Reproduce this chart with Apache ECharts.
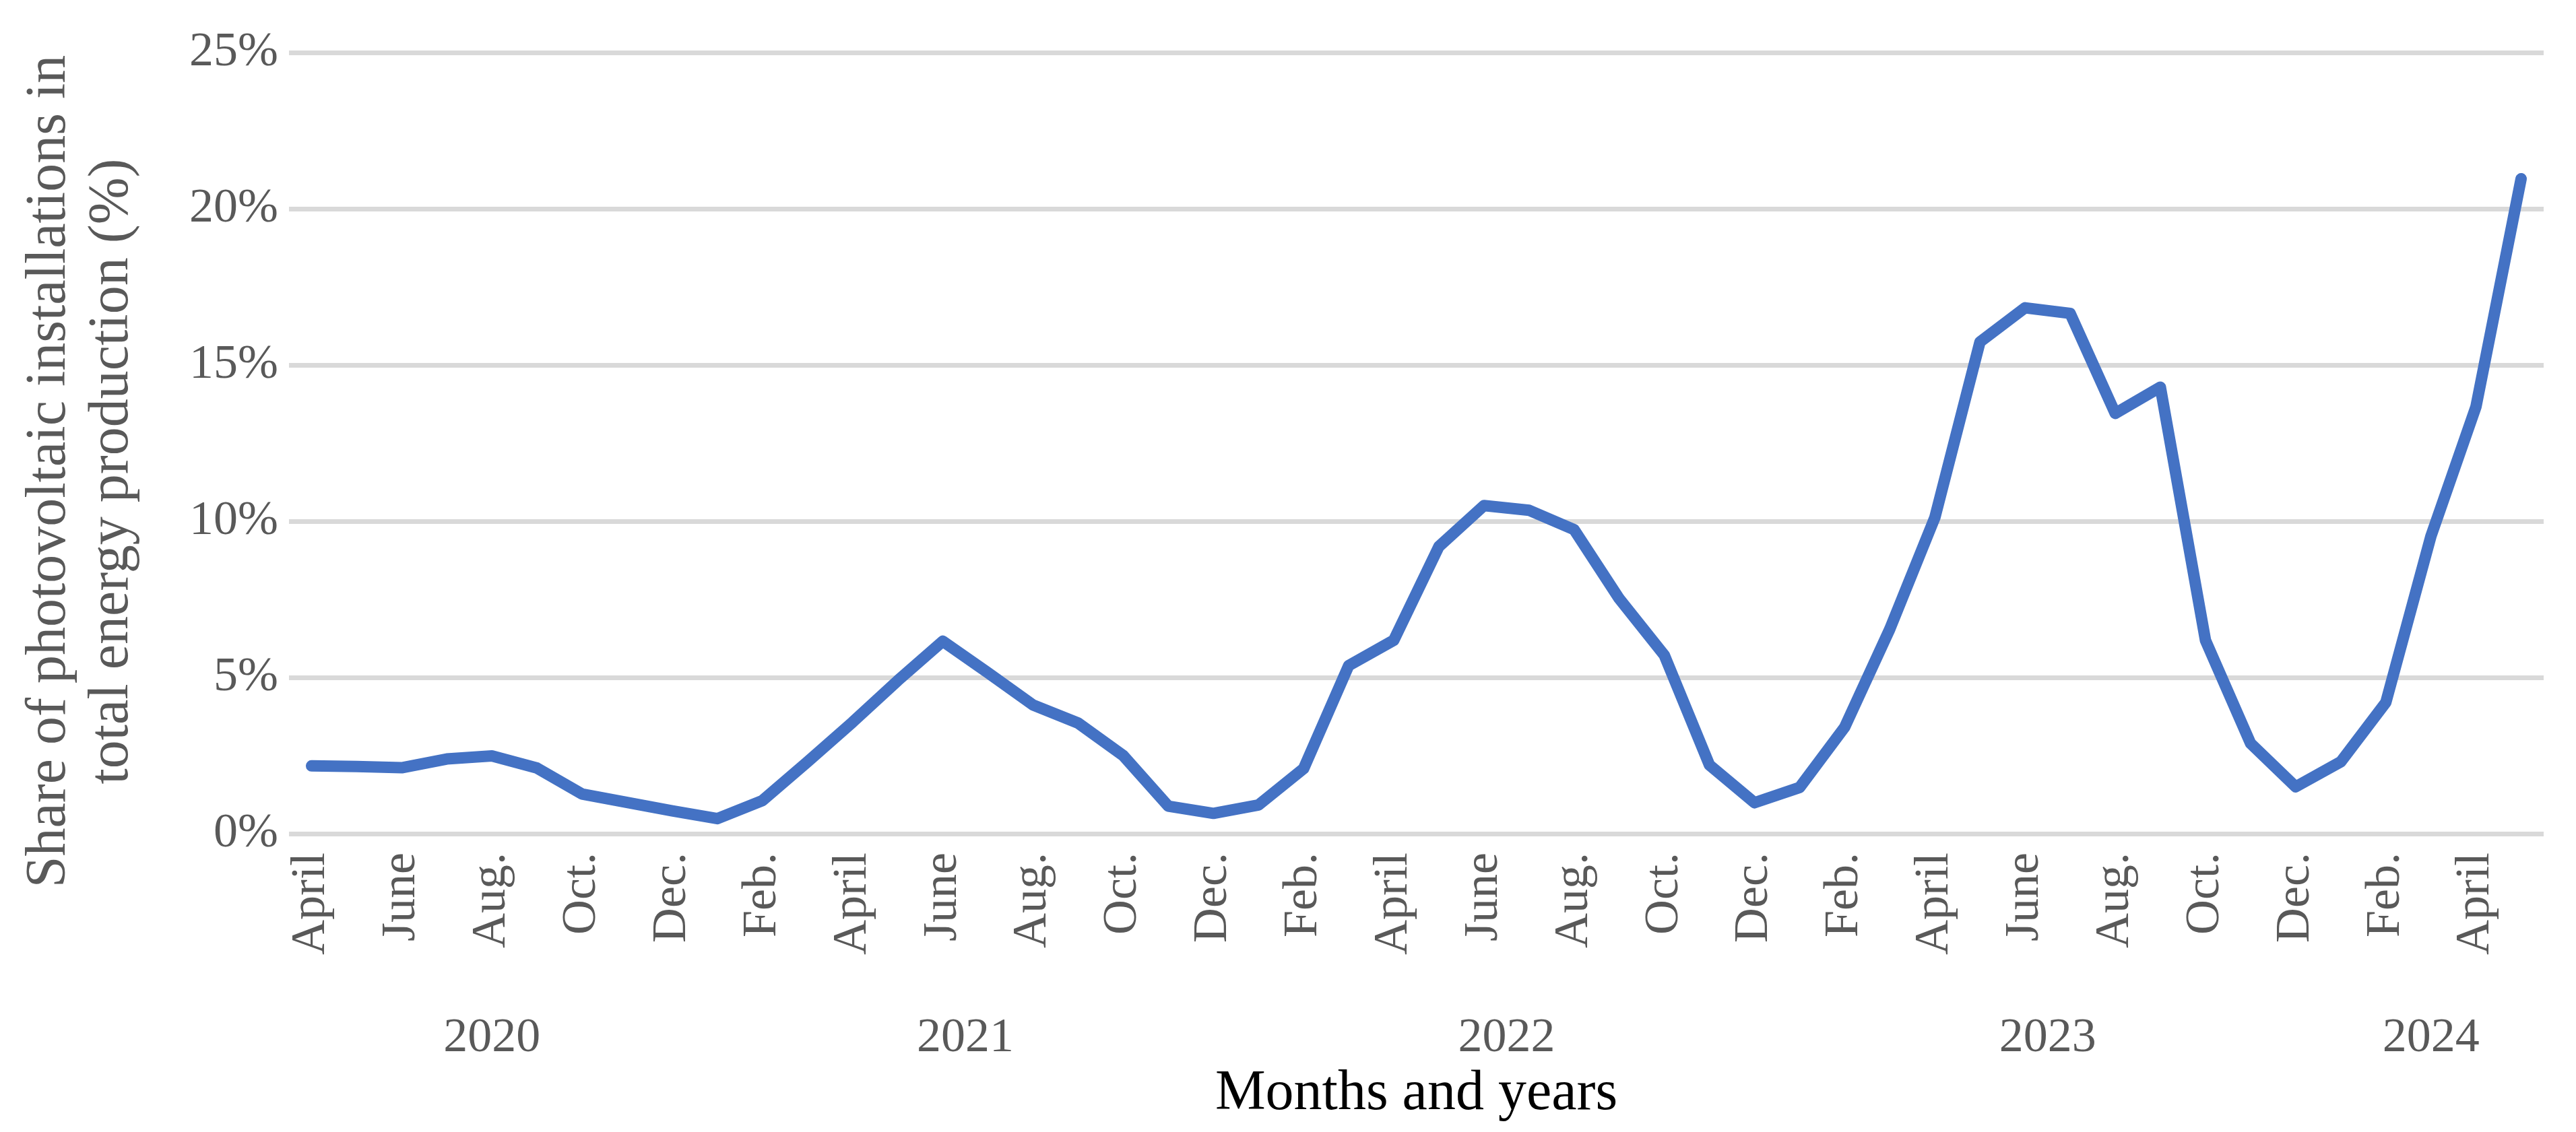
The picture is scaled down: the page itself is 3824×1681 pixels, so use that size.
<!DOCTYPE html>
<html>
<head>
<meta charset="utf-8">
<script src="https://cdn.jsdelivr.net/npm/echarts@6/dist/echarts.min.js"></script>
<style>
html,body{margin:0;padding:0;background:#fff;}
#chart{width:3824px;height:1681px;}
</style>
</head>
<body>
<div id="chart"></div>
<script>
// ---- data ----
const monthNames = [
  'April','May','June','July','Aug.','Sep.','Oct.','Nov.','Dec.',
  'Jan.','Feb.','Mar.','April','May','June','July','Aug.','Sep.','Oct.','Nov.','Dec.',
  'Jan.','Feb.','Mar.','April','May','June','July','Aug.','Sep.','Oct.','Nov.','Dec.',
  'Jan.','Feb.','Mar.','April','May','June','July','Aug.','Sep.','Oct.','Nov.','Dec.',
  'Jan.','Feb.','Mar.','April','May'
];
const yearLabels = ['2020','2021','2022','2023','2024'];
const monthsPerYear = [9, 12, 12, 12, 5];
const pvShare = [
  2.17, 2.15, 2.11, 2.39, 2.49, 2.10, 1.27, 1.00, 0.73,
  0.48, 1.06, 2.30, 3.57, 4.90, 6.16, 5.15, 4.12, 3.54, 2.50, 0.88, 0.65,
  0.92, 2.08, 5.38, 6.19, 9.19, 10.50, 10.35, 9.73, 7.52, 5.71, 2.20, 0.99,
  1.48, 3.41, 6.55, 10.12, 15.74, 16.83, 16.65, 13.45, 14.29, 6.19, 2.89, 1.50,
  2.30, 4.20, 9.52, 13.67, 20.96
];
const yTicks = ['0%','5%','10%','15%','20%','25%'];
const yTitle = 'Share of photovoltaic installations in\ntotal energy production (%)';
const xTitle = 'Months and years';

// ---- derived helpers ----
const categories = [];
const yearCenters = [];
let idx = 0;
yearLabels.forEach((y, k) => {
  const start = idx;
  for (let m = 0; m < monthsPerYear[k]; m++) { categories.push(monthNames[idx] + '|' + y); idx++; }
  yearCenters.push((start + idx - 1) / 2);
});

const FONT = "'Liberation Serif', 'Times New Roman', serif";
const chart = echarts.init(document.getElementById('chart'), null, {renderer: 'canvas'});
chart.setOption({
  backgroundColor: '#ffffff',
  animation: false,
  grid: {left: 429, right: 48, top: 78, bottom: 443, containLabel: false},
  xAxis: [
    {
      type: 'category',
      data: categories,
      boundaryGap: true,
      axisLine: {show: false},
      axisTick: {show: false},
      splitLine: {show: false},
      axisLabel: {
        interval: 1,
        rotate: 90,
        margin: 28,
        fontFamily: FONT,
        fontSize: 72,
        color: '#595959',
        formatter: v => v.split('|')[0]
      }
    },
    {
      type: 'value',
      min: -0.5,
      max: categories.length - 0.5,
      position: 'bottom',
      axisLine: {show: false},
      axisTick: {show: false},
      splitLine: {show: false},
      axisLabel: {
        customValues: yearCenters,
        margin: 268,
        fontFamily: FONT,
        fontSize: 72,
        color: '#595959',
        formatter: v => {
          const k = yearCenters.findIndex(c => Math.abs(c - v) < 0.01);
          return k >= 0 ? yearLabels[k] : '';
        }
      },
      name: xTitle,
      nameLocation: 'middle',
      nameGap: 372,
      nameTextStyle: {fontFamily: FONT, fontSize: 84, color: '#000000', verticalAlign: 'middle'}
    }
  ],
  yAxis: {
    type: 'value',
    min: 0,
    max: 25,
    interval: 5,
    axisLine: {show: false},
    axisTick: {show: false},
    axisLabel: {
      margin: 16,
      fontFamily: FONT,
      fontSize: 72,
      color: '#595959',
      formatter: v => yTicks[Math.round(v / 5)]
    },
    splitLine: {show: true, lineStyle: {color: '#D9D9D9', width: 7}}
  },
  graphic: [{
    type: 'text',
    x: 120,
    y: 700,
    rotation: Math.PI / 2,
    style: {
      text: yTitle,
      font: "84px " + FONT,
      fill: '#595959',
      textAlign: 'center',
      textVerticalAlign: 'middle',
      lineHeight: 93
    }
  }],
  series: [{
    type: 'line',
    xAxisIndex: 0,
    yAxisIndex: 0,
    data: pvShare,
    showSymbol: false,
    symbol: 'none',
    lineStyle: {color: '#4472C4', width: 17, cap: 'round', join: 'round'}
  }]
});
</script>
</body>
</html>
